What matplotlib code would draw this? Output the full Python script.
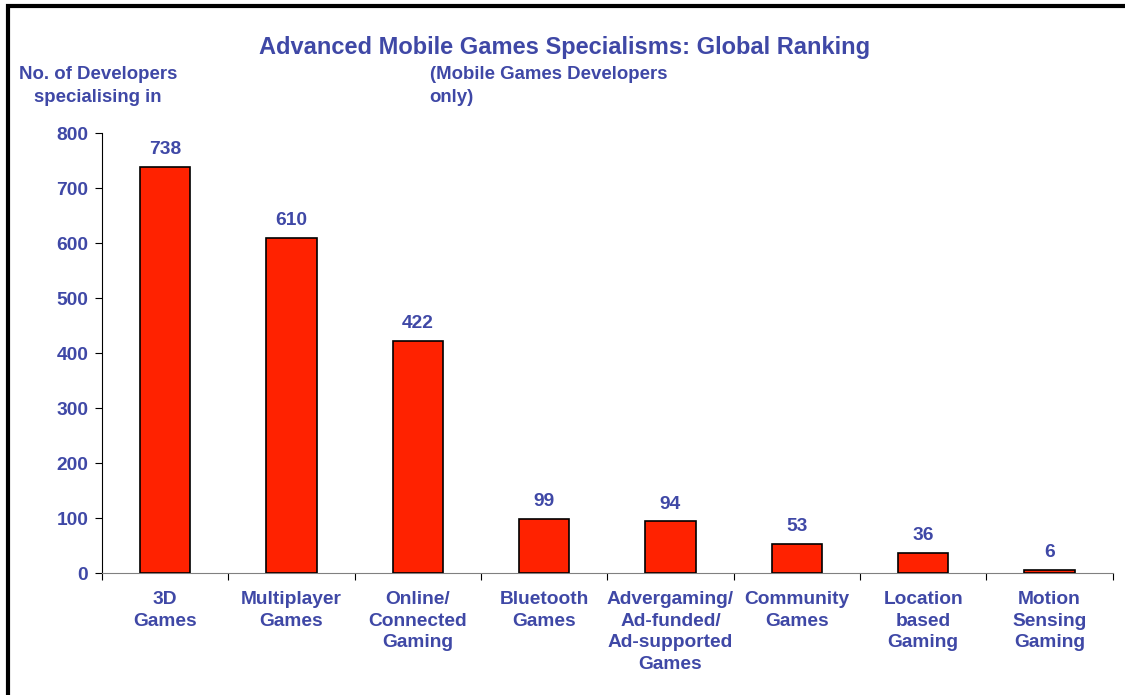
import matplotlib.pyplot as plt
import numpy as np
from matplotlib.patches import Rectangle

categories = ['3D\nGames', 'Multiplayer\nGames', 'Online/\nConnected\nGaming', 'Bluetooth\nGames',
              'Advergaming/\nAd-funded/\nAd-supported\nGames', 'Community\nGames', 'Location\nbased\nGaming',
              'Motion\nSensing\nGaming']
developers = [738, 610, 422, 99, 94, 53, 36, 6]
y_ticks = [0, 100, 200, 300, 400, 500, 600, 700, 800]

text_color = '#3f48a6'
bar_color = '#ff2200'

plt.rcParams['font.family'] = ['Liberation Sans', 'DejaVu Sans']
plt.rcParams['font.weight'] = 'bold'

fig = plt.figure(figsize=(11.25, 6.95), dpi=100)
ax = fig.add_axes([0.0907, 0.1755, 0.8983, 0.6331])

x = np.arange(len(categories))
ax.bar(x, developers, width=0.4, color=bar_color, edgecolor='black', linewidth=1.2, zorder=3)

for xi, v in zip(x, developers):
    ax.text(xi, v + 16, str(v), ha='center', va='bottom', color=text_color, fontsize=13.8, fontweight='bold')

ax.set_xlim(-0.5, len(categories) - 0.5)
ax.set_ylim(0, 800)
ax.set_yticks(y_ticks)
ax.set_yticklabels([str(t) for t in y_ticks], color=text_color, fontsize=13.8, fontweight='bold')

# category labels sit between the boundary ticks
ax.set_xticks(np.arange(len(categories) + 1) - 0.5)
ax.set_xticklabels([])
ax.tick_params(axis='x', length=5, color='black', direction='out')
ax.tick_params(axis='y', length=5, color='black', direction='out', pad=5)
for xi, lab in zip(x, categories):
    ax.text(xi, -32.5, lab, ha='center', va='top', color=text_color, fontsize=13.8, fontweight='bold',
            linespacing=1.36)

ax.spines['top'].set_visible(False)
ax.spines['right'].set_visible(False)
ax.spines['left'].set_color('black')
ax.spines['bottom'].set_color('#808080')

fig.text(0.502, 0.931, 'Advanced Mobile Games Specialisms: Global Ranking', ha='center', va='center',
         color=text_color, fontsize=17, fontweight='bold')
fig.text(0.087, 0.876, 'No. of Developers\nspecialising in', ha='center', va='center',
         color=text_color, fontsize=13.4, fontweight='bold', linespacing=1.42)
fig.text(0.382, 0.876, '(Mobile Games Developers\nonly)', ha='left', va='center',
         color=text_color, fontsize=13.4, fontweight='bold', linespacing=1.42)

# outer frame, cut off at right and bottom
fig.patches.append(Rectangle((0.0071, -0.1), 1.2, 1.0914, transform=fig.transFigure, fill=False,
                             edgecolor='black', linewidth=3))

fig.savefig('out.png', dpi=100)
